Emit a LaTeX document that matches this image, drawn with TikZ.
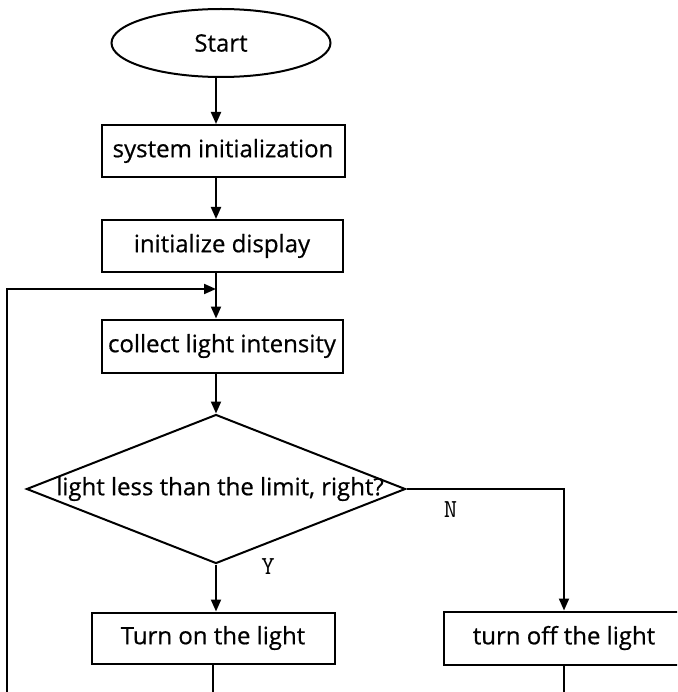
\documentclass[tikz,border=0pt]{standalone}
\usepackage{fontspec}
\setmainfont{Open Sans}
\usetikzlibrary{shapes.geometric, arrows.meta}

\tikzset{
    flowbox/.style={draw, rectangle, line width=2pt, inner sep=0pt,
        font=\fontsize{24}{26}\selectfont\addfontfeatures{FakeBold=0.6}},
    arr/.style={line width=2pt, -{Triangle[length=12pt, width=10pt]}},
    yn/.style={font=\ttfamily\fontsize{26}{28}\selectfont\addfontfeatures{FakeBold=1.2}}
}

\begin{document}
\begin{tikzpicture}[x=1pt, y=-1pt, line width=2pt]
    \useasboundingbox (0,0) rectangle (677,692);
    \clip (0,0) rectangle (677,692);

    \coordinate (col) at (216, 0);
    \coordinate (merge) at (216, 289);
    \coordinate (loopin) at (7, 700);
    \coordinate (onout) at (213, 700);
    \coordinate (offout) at (564, 700);

    % main column
    \node[flowbox, ellipse, minimum width=219, minimum height=68] (start) at (221, 43) {Start};
    \node[flowbox, minimum width=243, minimum height=52] (sys) at (223, 151) {system initialization};
    \node[flowbox, minimum width=241, minimum height=52] (disp) at (222, 246) {initialize display};
    \node[flowbox, minimum width=241, minimum height=53] (collect) at (222, 346) {collect light intensity};
    \node[flowbox, diamond, minimum width=379, minimum height=149] (dec) at (216, 489)
        {\makebox[0pt]{\hspace{8pt}light less than the limit, right?}};

    % branches
    \node[flowbox, minimum width=243, minimum height=51] (on) at (213, 638) {Turn on the light};
    \node[flowbox, minimum width=241, minimum height=53] (off) at (564, 638) {turn off the light};

    \draw[arr] (start.south -| col) -- (sys.north -| col);
    \draw[arr] (sys.south -| col) -- (disp.north -| col);
    \draw (disp.south -| col) -- (merge);
    \draw[arr] (merge) -- (collect.north -| col);
    \draw[arr] (collect.south -| dec.north) -- (dec.north);

    \draw[arr] (dec.south) -- (dec.south |- on.north) node[yn, pos=0, xshift=52pt, yshift=-2pt] {Y};
    \draw[arr] (dec.east) -| (off.north) node[yn, pos=0, xshift=44pt, yshift=-21pt] {N};

    \draw (on.south) -- (on.south |- onout);
    \draw (off.south) -- (offout);
    \draw[arr] (loopin) |- (merge);
\end{tikzpicture}
\end{document}
